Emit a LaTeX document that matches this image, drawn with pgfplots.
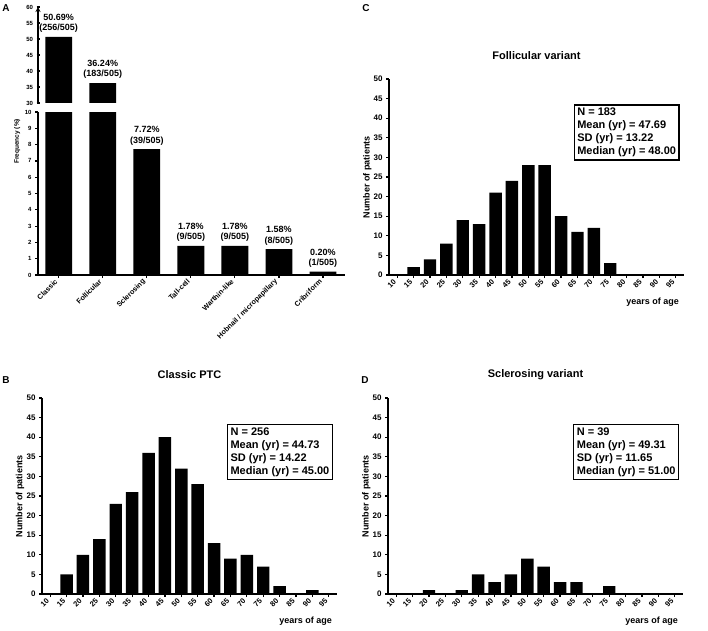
\documentclass[border=0pt]{standalone}
\usepackage{fontspec}
\setmainfont{Liberation Sans}
\usepackage{pgfplots}
\pgfplotsset{compat=1.18}

\tikzset{
  statbox/.style={draw, line width=1.2pt, anchor=north west, align=left, inner sep=3pt,
    font=\fontsize{11}{13}\selectfont\bfseries},
  panel/.style={font=\fontsize{10}{12}\selectfont\bfseries},
  barlab/.style={align=center, font=\fontsize{9}{10.5}\selectfont\bfseries, inner sep=1pt, yshift=3pt},
}

\pgfplotsset{
  gp/.style={
    scale only axis,
    axis lines=left,
    axis line style={-, line width=1.2pt},
    tick align=outside,
    major tick length=3pt,
    tick style={line width=1.2pt, black},
    enlargelimits=false,
    /pgf/number format/assume math mode=true,
  },
  hist/.style={
    gp, width=295pt, height=196pt,
    xmin=7.5, xmax=97.5, ymin=0, ymax=50,
    xtick={10,15,...,95}, ytick={0,5,...,50},
    xticklabel style={rotate=45, anchor=east, font=\fontsize{7.5}{8}\selectfont\bfseries},
    yticklabel style={font=\fontsize{8}{9}\selectfont\bfseries},
    ylabel={Number of patients}, xlabel={years of age},
    ylabel style={at={(axis description cs:-0.074,0.5)}, anchor=center,
      font=\fontsize{9}{10}\selectfont\bfseries},
    xlabel style={at={(axis description cs:0.995,-0.138)}, anchor=east,
      font=\fontsize{9}{10}\selectfont\bfseries},
    title style={at={(axis description cs:0.5,1.09)}, anchor=center,
      font=\fontsize{11}{12}\selectfont\bfseries},
    ybar, bar width=3.8,
  },
}

\begin{document}
\begin{tikzpicture}
\path[use as bounding box] (0pt,0pt) rectangle (708pt,630pt);

% panel A, upper segment
\begin{axis}[gp, at={(38pt,527pt)}, anchor=south west, width=307pt, height=96pt,
  xmin=-0.47, xmax=6.5, ymin=30, ymax=60, ytick={30,35,...,60},
  axis x line=none, axis y line=left, xtick=\empty,
  yticklabel style={font=\fontsize{6}{7}\selectfont\bfseries},
  ybar, bar width=0.61,
  nodes near coords, point meta=explicit symbolic,
  every node near coord/.append style={barlab}]
\addplot[fill=black, draw=none] coordinates {
  (0,50.69) [{50.69\%\\(256/505)}]
  (1,36.24) [{36.24\%\\(183/505)}]
};
\end{axis}

% panel A, lower segment
\begin{axis}[gp, at={(38pt,355pt)}, anchor=south west, width=307pt, height=163pt,
  xmin=-0.47, xmax=6.5, ymin=0, ymax=10, ytick={0,...,10},
  xtick={0,...,6},
  xticklabels={Classic,Follicular,Sclerosing,Tall-cell,Warthin-like,Hobnail / micropapillary,Cribriform},
  xticklabel style={rotate=45, anchor=east, font=\fontsize{7.2}{8}\selectfont\bfseries},
  yticklabel style={font=\fontsize{6}{7}\selectfont\bfseries},
  ylabel={Frequency (\%)},
  ylabel style={at={(axis description cs:-0.068,0.82)}, anchor=center,
    font=\fontsize{6.5}{7}\selectfont\bfseries},
  ybar, bar width=0.61,
  nodes near coords, point meta=explicit symbolic,
  every node near coord/.append style={barlab}]
\addplot[fill=black, draw=none] coordinates {
  (0,50.69) [{}]
  (1,36.24) [{}]
  (2,7.72) [{7.72\%\\(39/505)}]
  (3,1.78) [{1.78\%\\(9/505)}]
  (4,1.78) [{1.78\%\\(9/505)}]
  (5,1.58) [{1.58\%\\(8/505)}]
  (6,0.20) [{0.20\%\\(1/505)}]
};
\end{axis}

% panel C
\begin{axis}[hist, at={(389pt,355pt)}, anchor=south west, title={Follicular variant}]
\addplot[fill=black, draw=none] coordinates {
  (10,0) (15,2) (20,4) (25,8) (30,14) (35,13) (40,21) (45,24) (50,28)
  (55,28) (60,15) (65,11) (70,12) (75,3) (80,0) (85,0) (90,0) (95,0)
};
\node[statbox] at (rel axis cs:0.626,0.870) {N = 183\\Mean (yr) = 47.69\\SD (yr) = 13.22\\Median (yr) = 48.00};
\end{axis}

% panel B
\begin{axis}[hist, at={(42pt,36pt)}, anchor=south west, title={Classic PTC}]
\addplot[fill=black, draw=none] coordinates {
  (10,0) (15,5) (20,10) (25,14) (30,23) (35,26) (40,36) (45,40) (50,32)
  (55,28) (60,13) (65,9) (70,10) (75,7) (80,2) (85,0) (90,1) (95,0)
};
\node[statbox] at (rel axis cs:0.627,0.868) {N = 256\\Mean (yr) = 44.73\\SD (yr) = 14.22\\Median (yr) = 45.00};
\end{axis}

% panel D
\begin{axis}[hist, at={(388pt,36pt)}, anchor=south west, title={Sclerosing variant}]
\addplot[fill=black, draw=none] coordinates {
  (10,0) (15,0) (20,1) (25,0) (30,1) (35,5) (40,3) (45,5) (50,9)
  (55,7) (60,3) (65,3) (70,0) (75,2) (80,0) (85,0) (90,0) (95,0)
};
\node[statbox] at (rel axis cs:0.628,0.868) {N = 39\\Mean (yr) = 49.31\\SD (yr) = 11.65\\Median (yr) = 51.00};
\end{axis}

\node[panel] at (6pt,622pt) {A};
\node[panel] at (366pt,622pt) {C};
\node[panel] at (6pt,250pt) {B};
\node[panel] at (365pt,250pt) {D};
\end{tikzpicture}
\end{document}
